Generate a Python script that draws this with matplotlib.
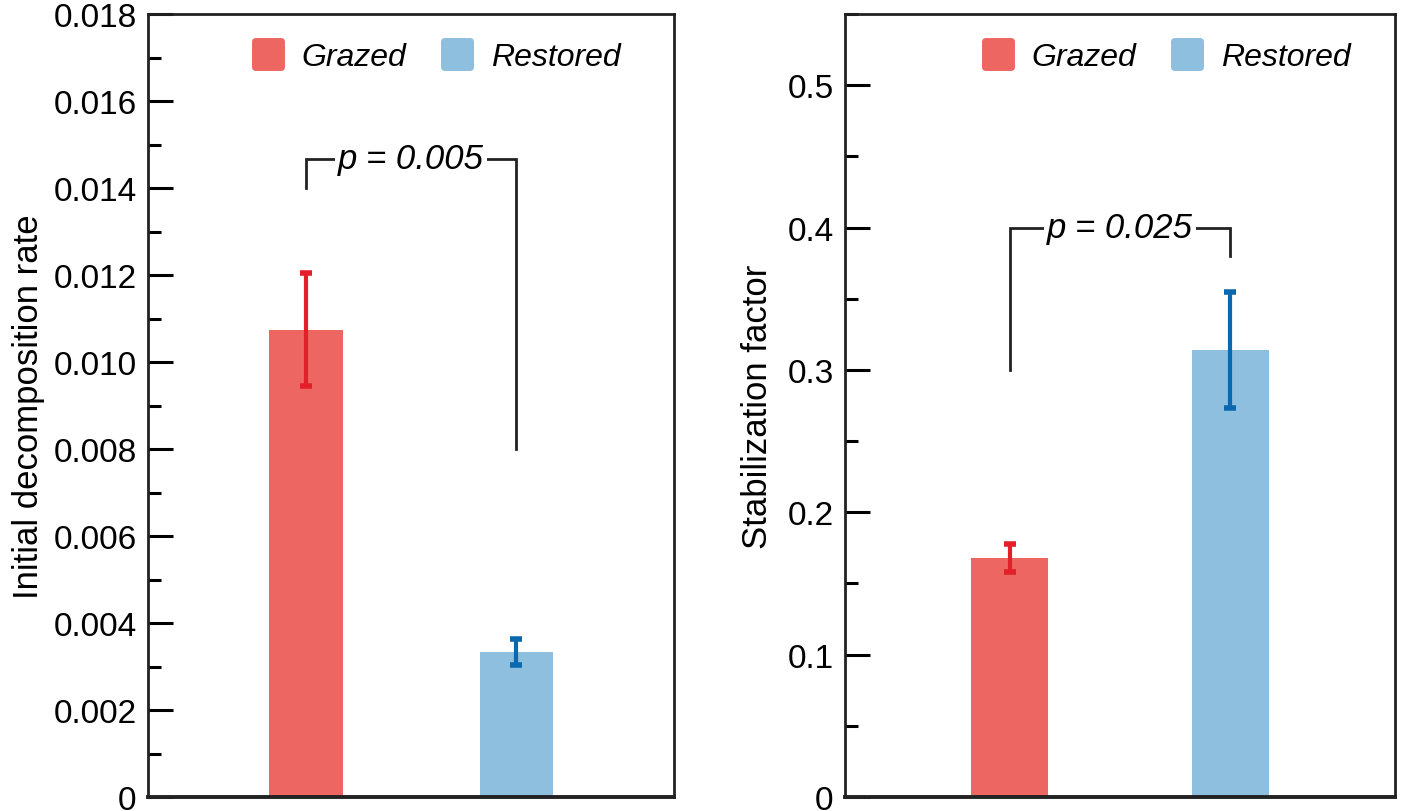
import numpy as np
import matplotlib.pyplot as plt
from matplotlib.lines import Line2D
from matplotlib.markers import MarkerStyle
from matplotlib.ticker import MultipleLocator

plt.rcParams['font.family'] = ['Liberation Sans', 'DejaVu Sans']

groups = ['Grazed', 'Restored']
decomp_mean = [0.01074, 0.00333]
decomp_err = [0.0013, 0.0003]
stab_mean = [0.168, 0.314]
stab_err = [0.010, 0.041]

bar_colors = ['#ee6662', '#8ebfde']
err_colors = ['#e3202a', '#0a69ae']
line_col = '#222222'

fig = plt.figure(figsize=(14.08, 8.12), dpi=100)
ax1 = fig.add_axes([0.105, 0.0172, 0.374, 0.9643])
ax2 = fig.add_axes([0.600, 0.0172, 0.391, 0.9643])


def draw_panel(ax, means, errs, ylim, major, minor, ylabel, fmt, labelpad):
    x = np.arange(len(means))
    for i in range(len(means)):
        ax.bar(x[i], means[i], width=0.35, color=bar_colors[i], zorder=2)
        ax.errorbar(x[i], means[i], yerr=errs[i], color=err_colors[i],
                    elinewidth=3, capsize=4.5, capthick=4, zorder=3)
    ax.set_xlim(-0.75, 1.75)
    ax.set_ylim(*ylim)
    ax.set_xticks([])
    ax.yaxis.set_major_locator(MultipleLocator(major))
    ax.yaxis.set_minor_locator(MultipleLocator(minor))
    ax.yaxis.set_major_formatter(fmt)
    ax.tick_params(axis='y', which='major', direction='in', length=18,
                   width=2.2, labelsize=24, pad=8)
    ax.tick_params(axis='y', which='minor', direction='in', length=9.5, width=2.2)
    for s in ax.spines.values():
        s.set_linewidth(2)
        s.set_color(line_col)
    ax.spines['bottom'].set_linewidth(2.8)
    ax.set_ylabel(ylabel, fontsize=25, labelpad=labelpad)


def zero_fmt(decimals):
    def f(v, pos):
        if abs(v) < 1e-12:
            return '0'
        return f'{v:.{decimals}f}'
    return f


def bracket(ax, x0, x1, y0, y1, ytop, label):
    ax.plot([x0, x0, x1, x1], [y0, ytop, ytop, y1], color=line_col,
            lw=2, zorder=4, solid_joinstyle='miter')
    ax.text((x0 + x1) / 2, ytop, label, ha='center', va='center',
            fontsize=25, style='italic', zorder=5,
            bbox=dict(facecolor='white', edgecolor='none', pad=2))


def legend(ax, xc):
    handles = [Line2D([], [], linestyle='none',
                      marker=MarkerStyle('s', joinstyle='round'),
                      markersize=19, markeredgewidth=5,
                      markerfacecolor=c, markeredgecolor=c)
               for c in bar_colors]
    leg = ax.legend(handles, groups, loc='center', bbox_to_anchor=(xc, 0.945),
                    ncol=2, frameon=False, fontsize=23, handlelength=1.0,
                    handletextpad=0.55, columnspacing=1.1)
    for t in leg.get_texts():
        t.set_style('italic')


draw_panel(ax1, decomp_mean, decomp_err, (0, 0.018), 0.002, 0.001,
           'Initial decomposition rate', zero_fmt(3), 6)
bracket(ax1, 0, 1, 0.014, 0.008, 0.01467, 'p = 0.005')
legend(ax1, 0.547)

draw_panel(ax2, stab_mean, stab_err, (0, 0.55), 0.1, 0.05,
           'Stabilization factor', zero_fmt(1), 10)
bracket(ax2, 0, 1, 0.30, 0.38, 0.40, 'p = 0.025')
legend(ax2, 0.584)

fig.savefig('out.png', dpi=100)
